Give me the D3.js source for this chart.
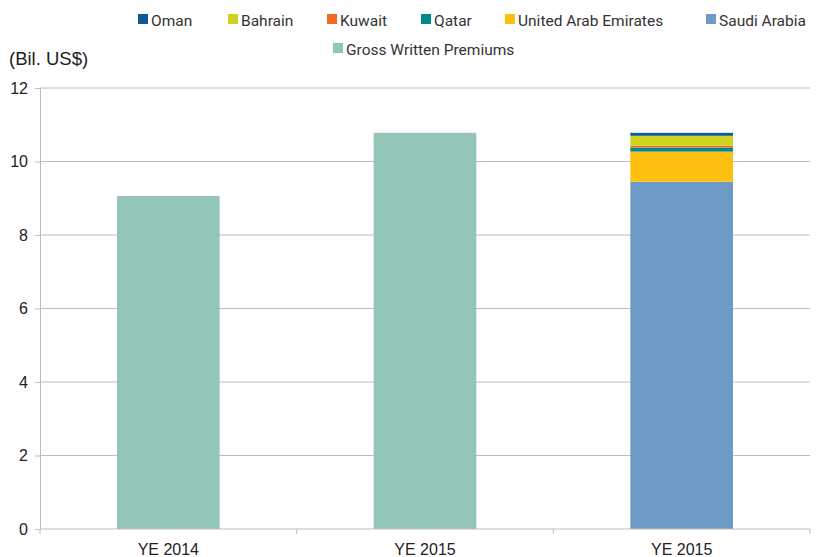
<!DOCTYPE html>
<html>
<head>
<meta charset="utf-8">
<script src="https://cdn.jsdelivr.net/npm/d3@7"></script>
<style>
  body { margin: 0; background: #fff; }
  svg { display: block; }
  .axis text { font-family: "Liberation Sans", Arial, sans-serif; font-size: 16px; fill: #222; }
  .legend text { font-family: "Roboto", sans-serif; font-size: 15.5px; fill: #333; }
</style>
</head>
<body>
<div id="chart"></div>
<script>
// categories on the x axis
const categories = ["YE 2014", "YE 2015", "YE 2015 (by country)"];
const categoryLabels = ["YE 2014", "YE 2015", "YE 2015"];

// gross written premiums, bil. US$
const grossWritten = [9.06, 10.78, null];

// country split of YE 2015 (bottom to top)
const countries = ["Saudi Arabia", "United Arab Emirates", "Qatar", "Kuwait", "Bahrain", "Oman"];
const countryValues = [9.45, 0.82, 0.11, 0.05, 0.27, 0.08];

// legend order as printed
const legendRow1 = ["Oman", "Bahrain", "Kuwait", "Qatar", "United Arab Emirates", "Saudi Arabia"];
const legendRow2 = ["Gross Written Premiums"];

const yTicks = [0, 2, 4, 6, 8, 10, 12];

const colors = {
    "Oman": "#0b5a96",
    "Bahrain": "#cdd41b",
    "Kuwait": "#f26a25",
    "Qatar": "#008b8b",
    "United Arab Emirates": "#fdc010",
    "Saudi Arabia": "#6d9ac6",
    "Gross Written Premiums": "#93c5b9"
};

// legend layout (swatch left edges)
const legendX1 = [138, 228, 327, 421, 505, 706];
const legendX2 = [333];

const W = 823, H = 557;
const margin = {top: 88, right: 13, bottom: 28, left: 40};
const width = W - margin.left - margin.right;
const height = H - margin.top - margin.bottom;

const svg = d3.select("#chart").append("svg")
    .attr("width", W)
    .attr("height", H);

const g = svg.append("g")
    .attr("transform", "translate(" + margin.left + "," + margin.top + ")");

const x = d3.scaleBand()
    .domain(categories)
    .range([0, width])
    .paddingInner(0.6)
    .paddingOuter(0.3);

const y = d3.scaleLinear()
    .domain([0, 12])
    .range([height, 0]);

// gridlines
g.append("g")
    .selectAll("line")
    .data(yTicks.filter(d => d > 0))
    .enter().append("line")
    .attr("x1", 0).attr("x2", width)
    .attr("y1", d => y(d)).attr("y2", d => y(d))
    .attr("stroke", "#bdbdbd")
    .attr("stroke-width", 1);

// gross written bars
g.append("g")
    .selectAll("rect")
    .data(categories.map((c, i) => ({cat: c, v: grossWritten[i]})).filter(d => d.v !== null))
    .enter().append("rect")
    .attr("x", d => x(d.cat))
    .attr("width", x.bandwidth())
    .attr("y", d => y(d.v))
    .attr("height", d => y(0) - y(d.v))
    .attr("fill", colors["Gross Written Premiums"]);

// stacked country bar
const row = {};
countries.forEach((c, i) => row[c] = countryValues[i]);
const stacked = d3.stack().keys(countries)([row]);

g.append("g")
    .selectAll("rect")
    .data(stacked)
    .enter().append("rect")
    .attr("x", x(categories[2]))
    .attr("width", x.bandwidth())
    .attr("y", d => y(d[0][1]))
    .attr("height", d => y(d[0][0]) - y(d[0][1]))
    .attr("fill", d => colors[d.key]);

// y axis
const yAxis = g.append("g")
    .attr("class", "axis")
    .call(d3.axisLeft(y).tickValues(yTicks).tickSize(5).tickPadding(7).tickFormat(d3.format("d")));
yAxis.select(".domain").attr("stroke", "#bdbdbd");
yAxis.selectAll(".tick line").attr("stroke", "#bdbdbd");

// x axis, ticks sit between categories
const xAxis = g.append("g")
    .attr("class", "axis")
    .attr("transform", "translate(0," + height + ")");
xAxis.append("line")
    .attr("x1", 0).attr("x2", width)
    .attr("stroke", "#bdbdbd");
xAxis.selectAll(".sep")
    .data(d3.range(categories.length + 1).map(i => i * width / categories.length))
    .enter().append("line")
    .attr("class", "sep")
    .attr("x1", d => d).attr("x2", d => d)
    .attr("y1", 0).attr("y2", 5)
    .attr("stroke", "#bdbdbd");
xAxis.selectAll(".lbl")
    .data(categories)
    .enter().append("text")
    .attr("class", "lbl")
    .attr("x", d => x(d) + x.bandwidth() / 2)
    .attr("y", 26)
    .attr("text-anchor", "middle")
    .text((d, i) => categoryLabels[i]);

// unit label
svg.append("text")
    .attr("x", 9)
    .attr("y", 65)
    .style("font-family", "'Liberation Sans', Arial, sans-serif")
    .style("font-size", "18.5px")
    .style("fill", "#222")
    .text("(Bil. US$)");

// legend
const legend = svg.append("g").attr("class", "legend");

function drawRow(items, xs, yPos) {
    items.forEach((name, i) => {
        const item = legend.append("g").attr("transform", "translate(" + xs[i] + "," + yPos + ")");
        item.append("rect")
            .attr("x", 0).attr("y", -12)
            .attr("width", 10).attr("height", 10)
            .attr("fill", colors[name]);
        item.append("text")
            .attr("x", 13).attr("y", 0)
            .text(name);
    });
}

drawRow(legendRow1, legendX1, 26);
drawRow(legendRow2, legendX2, 55);
</script>
</body>
</html>
